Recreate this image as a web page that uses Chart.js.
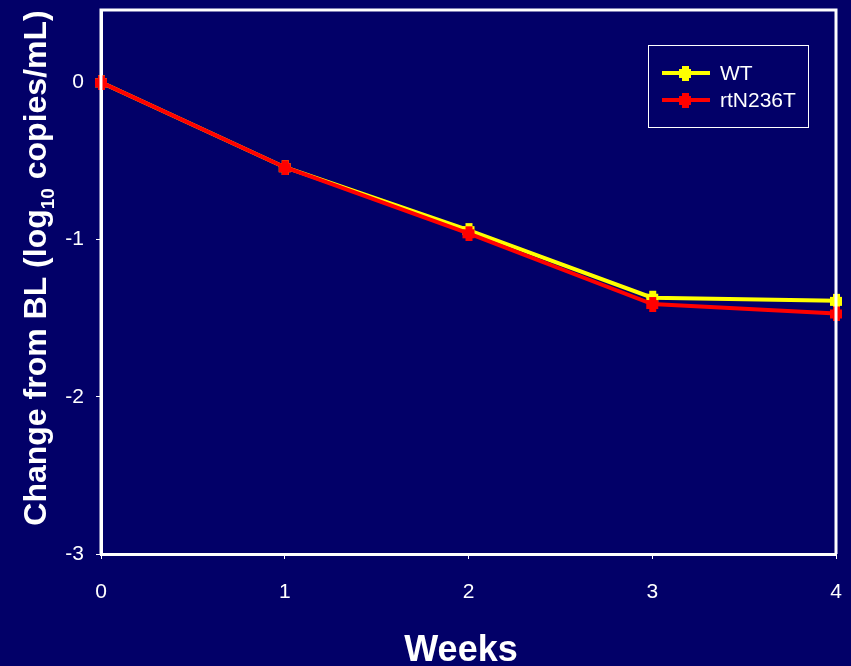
<!DOCTYPE html>
<html>
<head>
<meta charset="utf-8">
<script src="https://cdn.jsdelivr.net/npm/chart.js@4/dist/chart.umd.min.js"></script>
<style>
  html, body { margin: 0; padding: 0; background: #020068; }
  #wrap { width: 851px; height: 666px; }
</style>
</head>
<body>
<div id="wrap"><canvas id="chart"></canvas></div>
<script>
var weeks = [0, 1, 2, 3, 4];
var wtValues = [0, -0.54, -0.94, -1.37, -1.39];
var mutValues = [0, -0.54, -0.96, -1.41, -1.47];
var yTicks = [-3, -2, -1, 0];
var seriesNames = ['WT', 'rtN236T'];
var fontFam = '"Liberation Sans", Arial, sans-serif';

var toPoints = function(vals) {
	return weeks.map(function(w, i) { return { x: w, y: vals[i] }; });
};

var drawMarker = function(ctx, x, y, color) {
	ctx.fillStyle = color;
	ctx.fillRect(x - 6, y - 4, 12, 9);
	ctx.fillRect(x - 3, y - 7, 7, 15);
};

// frame round the plot, legend box, axis titles
var framePlugin = {
	id: 'frame',
	afterDraw: function(chart) {
		var ctx = chart.ctx;
		var a = chart.chartArea;
		ctx.save();
		ctx.strokeStyle = '#ffffff';
		ctx.lineWidth = 3;
		ctx.beginPath();
		ctx.moveTo(a.left, a.bottom);
		ctx.lineTo(a.left, a.top);
		ctx.lineTo(a.right, a.top);
		ctx.lineTo(a.right, a.bottom);
		ctx.stroke();

		// legend
		ctx.lineWidth = 1;
		ctx.strokeRect(648.5, 45.5, 160, 82);
		var rows = [[73, '#ffff00'], [100, '#ff0000']];
		ctx.font = '21px ' + fontFam;
		ctx.textBaseline = 'middle';
		rows.forEach(function(r, i) {
			ctx.strokeStyle = r[1];
			ctx.lineWidth = 4;
			ctx.beginPath();
			ctx.moveTo(662, r[0]);
			ctx.lineTo(710, r[0]);
			ctx.stroke();
			drawMarker(ctx, 685, r[0], r[1]);
			ctx.fillStyle = '#ffffff';
			ctx.fillText(seriesNames[i], 720, r[0] + 1);
		});

		// axis titles
		ctx.fillStyle = '#ffffff';
		ctx.font = 'bold 36px ' + fontFam;
		ctx.textAlign = 'center';
		ctx.textBaseline = 'alphabetic';
		ctx.fillText('Weeks', 461, 661);

		ctx.translate(46, 268);
		ctx.rotate(-Math.PI / 2);
		var big = 'bold 32px ' + fontFam;
		var small = 'bold 19px ' + fontFam;
		var parts = [['Change from BL (log', big, 0], ['10', small, 8], [' copies/mL)', big, 0]];
		var total = 0;
		parts.forEach(function(p) { ctx.font = p[1]; total += ctx.measureText(p[0]).width; });
		var x = -total / 2;
		ctx.textAlign = 'left';
		parts.forEach(function(p) {
			ctx.font = p[1];
			ctx.fillText(p[0], x, p[2]);
			x += ctx.measureText(p[0]).width;
		});
		ctx.restore();
	}
};

var pointImg = function(color) {
	var c = document.createElement('canvas');
	c.width = 16; c.height = 16;
	drawMarker(c.getContext('2d'), 8, 8, color);
	return c;
};

new Chart(document.getElementById('chart'), {
	type: 'line',
	data: {
		datasets: [
			{
				label: seriesNames[1],
				data: toPoints(mutValues),
				borderColor: '#ff0000',
				backgroundColor: '#ff0000',
				borderWidth: 4,
				pointStyle: pointImg('#ff0000'),
				order: 1
			},
			{
				label: seriesNames[0],
				data: toPoints(wtValues),
				borderColor: '#ffff00',
				backgroundColor: '#ffff00',
				borderWidth: 4,
				pointStyle: pointImg('#ffff00'),
				order: 2
			}
		]
	},
	options: {
		responsive: true,
		maintainAspectRatio: false,
		animation: false,
		clip: false,
		layout: { padding: { top: 10, right: 15, left: 0, bottom: 0 } },
		plugins: { legend: { display: false }, tooltip: { enabled: false } },
		scales: {
			x: {
				type: 'linear',
				min: 0, max: 4,
				ticks: { stepSize: 1, color: '#ffffff', padding: 21, font: { size: 21, family: fontFam } },
				grid: { drawOnChartArea: false, color: '#ffffff', tickLength: 5, lineWidth: 1 },
				border: { color: '#ffffff', width: 3 },
				afterFit: function(s) { s.height = 112; s.paddingLeft = 0; s.paddingRight = 0; }
			},
			y: {
				min: -3, max: 0.46,
				afterBuildTicks: function(s) { s.ticks = yTicks.map(function(v) { return { value: v }; }); },
				ticks: { color: '#ffffff', padding: 12, font: { size: 21, family: fontFam } },
				grid: { drawOnChartArea: false, color: '#ffffff', tickLength: 5, lineWidth: 1 },
				border: { color: '#ffffff', width: 3 },
				afterFit: function(s) { s.width = 101; s.paddingTop = 0; s.paddingBottom = 0; }
			}
		}
	},
	plugins: [framePlugin]
});
</script>
</body>
</html>
